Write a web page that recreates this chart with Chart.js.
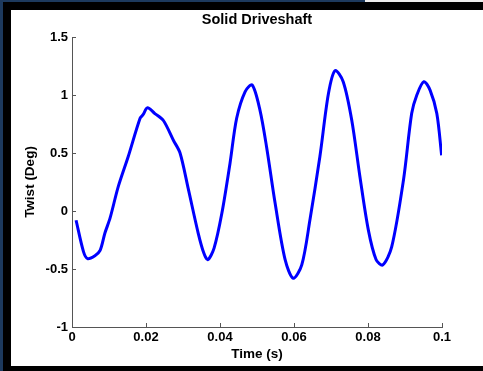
<!DOCTYPE html>
<html>
<head>
<meta charset="utf-8">
<script src="https://cdn.jsdelivr.net/npm/chart.js@4/dist/chart.umd.min.js"></script>
<style>
  html, body { margin: 0; padding: 0; width: 483px; height: 371px; overflow: hidden; background: #1d3a5e; }
  #frame { position: absolute; left: 3px; top: 2px; width: 480px; height: 369px; background: #000; }
  #strip { position: absolute; left: 365px; top: 0; width: 118px; height: 2px; background: #eeeeee; }
  #paper { position: absolute; left: 11px; top: 10px; width: 472px; height: 356px; background: #fff; }
  #wrap { position: absolute; left: 0; top: 0; width: 483px; height: 371px; }
</style>
</head>
<body>
<div id="frame"></div>
<div id="strip"></div>
<div id="paper"></div>
<div id="wrap"><canvas id="c" width="483" height="371"></canvas></div>
<script>
// Time (s)
const timeValues = [
  0.0011, 0.0031, 0.0042, 0.0062, 0.0076, 0.0089, 0.0103, 0.0125, 0.0152, 0.0184,
  0.0192, 0.0204, 0.0224, 0.0247, 0.0274, 0.0292, 0.0314, 0.0341, 0.0356, 0.0367,
  0.0384, 0.0405, 0.0427, 0.0445, 0.0468, 0.0487, 0.0508, 0.0526, 0.0549, 0.0576,
  0.0598, 0.0621, 0.0643, 0.0670, 0.0693, 0.0711, 0.0733, 0.0756, 0.0778, 0.0801,
  0.0822, 0.0840, 0.0864, 0.0896, 0.0918, 0.0932, 0.0951, 0.0968, 0.0986, 0.0999
];
// Twist (Deg)
const twistValues = [
  -0.08, -0.35, -0.41, -0.385, -0.34, -0.19, -0.06, 0.21, 0.47, 0.80,
  0.83, 0.89, 0.84, 0.78, 0.61, 0.50, 0.195, -0.19, -0.36, -0.42,
  -0.32, -0.02, 0.41, 0.80, 1.03, 1.086, 0.87, 0.55, 0.066, -0.42,
  -0.58, -0.465, -0.078, 0.47, 1.01, 1.21, 1.115, 0.785, 0.30, -0.165,
  -0.42, -0.465, -0.31, 0.27, 0.84, 1.0, 1.115, 1.04, 0.84, 0.48
];
const xTickValues = [0, 0.02, 0.04, 0.06, 0.08, 0.1];
const xTickLabels = ['0', '0.02', '0.04', '0.06', '0.08', '0.1'];
const yTickValues = [-1, -0.5, 0, 0.5, 1, 1.5];
const yTickLabels = ['-1', '-0.5', '0', '0.5', '1', '1.5'];

const points = timeValues.map((t, i) => ({ x: t, y: twistValues[i] }));
const AXIS_COLOR = '#555555';
const FONT = 'Liberation Sans, Arial, sans-serif';

const inwardTicks = {
  id: 'inwardTicks',
  afterDraw(chart) {
    const ctx = chart.ctx;
    const xs = chart.scales.x, ys = chart.scales.y;
    ctx.save();
    ctx.strokeStyle = AXIS_COLOR;
    ctx.lineWidth = 1;
    ctx.beginPath();
    xTickValues.forEach(v => {
      const px = Math.round(xs.getPixelForValue(v)) + 0.5;
      ctx.moveTo(px, ys.bottom);
      ctx.lineTo(px, ys.bottom - 4);
    });
    yTickValues.forEach(v => {
      const py = Math.round(ys.getPixelForValue(v)) + 0.5;
      ctx.moveTo(xs.left, py);
      ctx.lineTo(xs.left + 4, py);
    });
    ctx.stroke();
    ctx.restore();
  }
};

new Chart(document.getElementById('c'), {
  type: 'scatter',
  data: {
    datasets: [{
      data: points,
      showLine: true,
      borderColor: '#0000ff',
      backgroundColor: '#0000ff',
      borderWidth: 3,
      pointRadius: 0,
      tension: 0.3,
      fill: false
    }]
  },
  options: {
    responsive: false,
    animation: false,
    devicePixelRatio: 1,
    layout: { padding: { left: 0, right: 41, top: 0, bottom: 0 } },
    plugins: {
      legend: { display: false },
      tooltip: { enabled: false },
      title: {
        display: true,
        fullSize: false,
        text: 'Solid Driveshaft',
        color: '#000',
        font: { family: FONT, size: 14.5, weight: 'bold' },
        padding: { top: 11, bottom: 8.6 }
      }
    },
    scales: {
      x: {
        type: 'linear',
        min: 0, max: 0.1,
        afterFit: s => { s.height = 44; },
        afterBuildTicks: s => { s.ticks = xTickValues.map(v => ({ value: v })); },
        ticks: {
          color: '#000',
          padding: 3,
          maxRotation: 0,
          font: { family: FONT, size: 13, weight: 'bold' },
          callback: (v) => xTickLabels[xTickValues.indexOf(v)] ?? ''
        },
        grid: { display: false, drawTicks: false },
        border: { display: true, color: AXIS_COLOR, width: 1 },
        title: {
          display: true,
          text: 'Time (s)',
          color: '#000',
          font: { family: FONT, size: 13.5, weight: 'bold' },
          padding: { top: 0, bottom: 9 }
        }
      },
      y: {
        type: 'linear',
        min: -1, max: 1.5,
        afterFit: s => { s.width = 72; },
        afterBuildTicks: s => { s.ticks = yTickValues.map(v => ({ value: v })); },
        ticks: {
          color: '#000',
          padding: 4,
          font: { family: FONT, size: 13, weight: 'bold' },
          callback: (v) => yTickLabels[yTickValues.indexOf(v)] ?? ''
        },
        grid: { display: false, drawTicks: false },
        border: { display: true, color: AXIS_COLOR, width: 1 },
        title: {
          display: true,
          text: 'Twist (Deg)',
          color: '#000',
          font: { family: FONT, size: 13.5, weight: 'bold' },
          padding: { top: 22, bottom: 0 }
        }
      }
    }
  },
  plugins: [inwardTicks]
});
</script>
</body>
</html>
